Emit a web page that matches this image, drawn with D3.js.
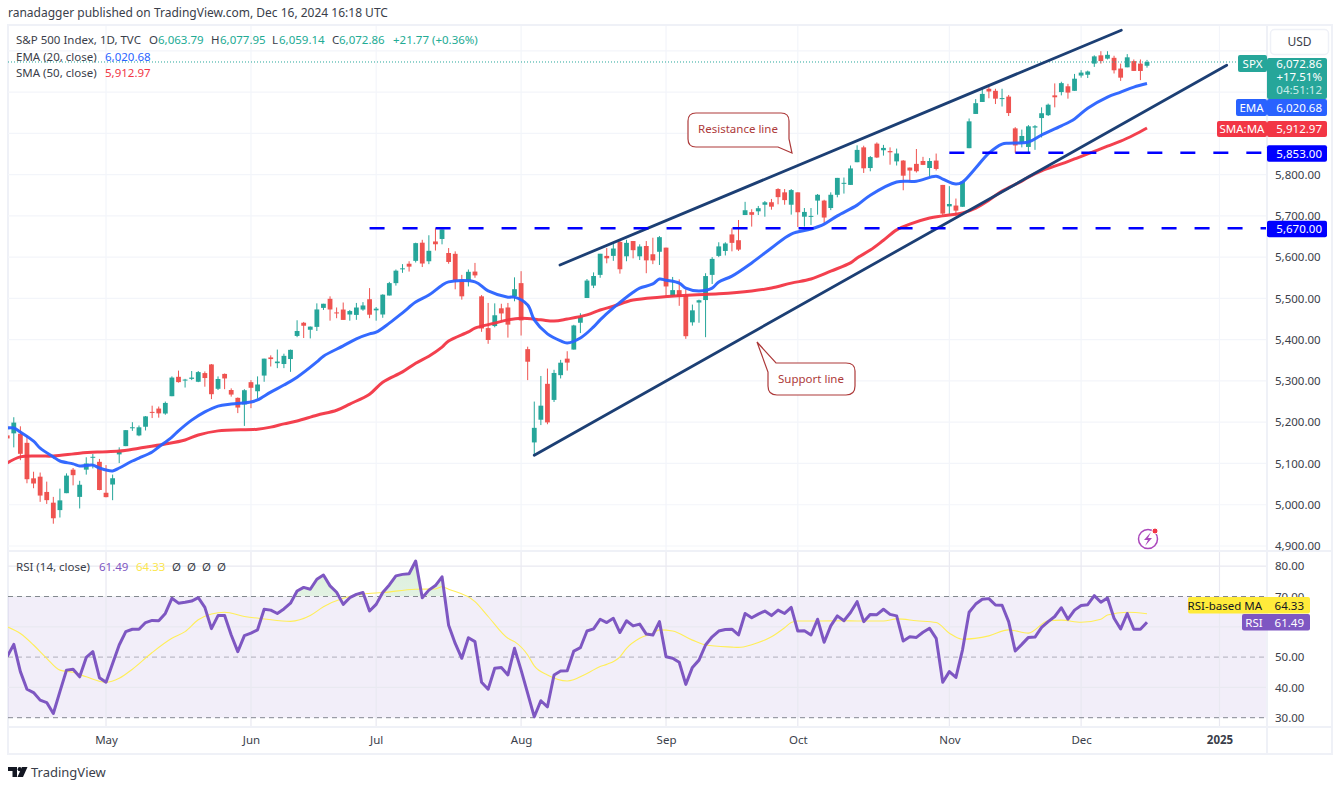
<!DOCTYPE html>
<html lang="en">
<head>
<meta charset="UTF-8">
<title>S&amp;P 500 Index daily chart</title>
<script src="https://d3js.org/d3.v7.min.js"></script>
<style>
    html, body { margin: 0; padding: 0; background: #fff; }
    svg { display: block; }
    text { font-family: "Noto Sans", sans-serif; font-size: 11.5px; fill: #3a3e4a; }
    .axis path, .axis line { display: none; }
    .axis text { font-size: 11.5px; fill: #3a3e4a; }
    .tag { font-size: 11.5px; fill: #fff; }
</style>
</head>
<body>
<svg id="chart" width="1340" height="786"></svg>
<script>
// one entry per trading day, Apr 10 to Dec 16 2024
const opens = [
    5168,5173,5172,5150,5064,5068,5031,5005,4987,5028,5085,5019,5085,5114,5104,
    5029,5049,5122,5142,5187,5168,5189,5225,5233,5221,5263,5310,5303,5305,5298,5319,5340,5281,5317,5278,5259,5243,
    5297,5275,5313,5357,5343,5341,5353,5409,5441,5424,5431,5477,5499,5466,5473,5461,5460,5473,5498,
    5471,5461,5507,5537,5572,5584,5591,5635,5590,5638,5644,5610,5608,5543,5544,5565,5505,5428,5433,5476,5478,5505,
    5537,5377,5151,5206,5293,5254,5314,5354,5376,5441,5501,5531,5557,5603,5603,5637,5602,5639,5602,5627,5607,5613,
    5623,5506,5520,5507,5442,5490,5496,5557,5603,5615,5655,5641,5702,5709,5711,5727,5733,5765,5757,5727,
    5757,5698,5698,5737,5737,5719,5751,5778,5775,5830,5866,5816,5875,5859,5857,5832,5834,5817,5826,5833,5816,5834,5775,
    5723,5725,5722,5864,5947,5976,6008,6003,5985,5989,5912,5878,5867,5914,5937,5944,5992,6000,6014,6003,
    6040,6042,6069,6089,6081,6083,6057,6060,6075,6069,6063.79
];
const highs = [
    5178,5212,5190,5168,5080,5078,5056,5019,5039,5076,5089,5058,5115,5123,5111,
    5096,5073,5139,5181,5200,5192,5215,5240,5238,5250,5311,5325,5305,5324,5324,5323,5341,5311,5318,5282,5260,5280,
    5302,5311,5354,5362,5376,5366,5376,5447,5443,5432,5488,5487,5505,5478,5490,5472,5489,5491,5525,
    5479,5510,5540,5570,5583,5590,5635,5642,5653,5670,5667,5622,5614,5557,5570,5586,5508,5489,5488,5487,5489,5551,
    5566,5383,5250,5312,5330,5327,5351,5372,5436,5464,5547,5563,5608,5622,5633,5643,5642,5639,5631,5639,5647,5651,
    5623,5552,5546,5522,5485,5497,5561,5600,5636,5636,5670,5690,5734,5716,5724,5736,5741,5767,5765,5765,
    5757,5719,5719,5753,5739,5757,5792,5793,5822,5871,5870,5845,5878,5872,5866,5863,5835,5817,5862,5843,5840,5851,5775,
    5772,5742,5783,5936,5983,6012,6018,6008,6008,5993,5915,5909,5920,5920,5963,5972,6021,6025,6020,6044,
    6053,6052,6089,6099,6099,6088,6069,6092,6079,6079,6077.95
];
const lows = [
    5139,5139,5108,5052,5040,5007,5002,4954,4969,5028,5047,4991,5073,5088,5035,
    5018,5011,5101,5142,5179,5166,5180,5210,5211,5218,5263,5296,5284,5302,5297,5286,5256,5278,5280,5262,5222,5191,
    5234,5257,5298,5335,5331,5331,5322,5406,5404,5403,5421,5472,5446,5452,5448,5446,5448,5470,5452,
    5446,5453,5507,5531,5562,5565,5587,5576,5583,5616,5631,5584,5522,5497,5529,5550,5419,5390,5430,5444,5405,5493,
    5410,5302,5119,5193,5195,5249,5306,5325,5376,5416,5501,5525,5550,5585,5591,5560,5590,5597,5593,5561,5583,5581,
    5504,5504,5482,5402,5434,5441,5406,5535,5600,5604,5614,5615,5702,5674,5702,5698,5715,5728,5727,5703,
    5673,5674,5678,5703,5683,5714,5745,5754,5775,5830,5804,5808,5840,5846,5824,5822,5762,5784,5805,5823,5796,5810,5702,
    5704,5700,5722,5864,5947,5976,5985,5971,5965,5942,5853,5866,5854,5860,5890,5942,5963,5992,5984,6003,
    6035,6034,6061,6069,6079,6045,6027,6060,6051,6029,6059.14
];
const closes = [
    5160.64,5199.06,5123.41,5061.82,5051.41,5022.21,5011.12,4967.23,5010.60,5070.55,5071.63,5048.42,5099.96,5116.17,5035.69,
    5018.39,5064.20,5127.79,5180.74,5187.70,5187.67,5214.08,5222.68,5221.42,5246.68,5308.15,5297.10,5303.27,5308.13,5321.41,5307.01,5267.84,5304.72,5306.04,5266.95,5235.48,5277.51,
    5283.40,5291.34,5354.03,5352.96,5346.99,5360.79,5375.32,5421.03,5433.74,5431.60,5473.23,5487.03,5473.17,5464.62,5447.87,5469.30,5477.90,5482.87,5460.48,
    5475.09,5509.01,5537.02,5567.19,5572.85,5576.98,5633.91,5584.54,5615.35,5631.22,5667.20,5588.27,5544.59,5505.00,5564.41,5555.74,5427.13,5399.22,5459.10,5463.54,5436.44,5522.30,
    5446.68,5346.56,5186.33,5240.03,5199.50,5319.31,5344.16,5344.39,5434.43,5455.21,5543.22,5554.25,5608.25,5597.12,5620.85,5570.64,5634.61,5616.84,5625.80,5592.18,5591.96,5648.40,
    5528.93,5520.07,5503.41,5408.42,5471.05,5495.52,5554.13,5595.76,5626.02,5633.09,5634.58,5618.26,5713.64,5702.55,5718.57,5732.93,5722.26,5745.37,5738.17,5762.48,
    5708.75,5709.54,5699.94,5751.07,5695.94,5751.13,5792.04,5780.05,5815.03,5859.85,5815.26,5842.47,5841.47,5864.67,5853.98,5851.20,5797.42,5809.86,5808.12,5823.52,5832.92,5813.67,5705.45,
    5728.80,5712.69,5782.76,5929.04,5973.10,5995.54,6001.35,5983.99,5985.38,5949.17,5870.62,5893.62,5916.98,5917.11,5948.71,5969.34,5987.37,6021.63,5998.74,6032.38,
    6047.15,6049.88,6086.49,6075.11,6090.27,6052.85,6034.91,6084.19,6051.25,6051.09,6072.86
];

const emaDays = [0,1,2,4,5,7,8,10,11,13,14,16,17,19,20,22,23,25,26,28,30,32,34,37,38,40,42,44,47,48,51,53,55,56,58,60,62,64,66,67,71,73,76,77,79,80,82,84,85,87,89,90,92,95,96,98,99,100,102,103,105,107,108,110,113,116,119,122,124,126,129,131,135,138,141,142,144,145,147,149,151,152,155,157,160,162,164,167,169,171,173];
const emaValues = [5186,5186,5176,5154,5137,5116,5106,5099,5094,5096,5089,5082,5089,5106,5113,5128,5140,5164,5179,5205,5225,5239,5244,5249,5254,5273,5290,5309,5346,5360,5385,5402,5414,5418,5440,5465,5491,5508,5532,5540,5540,5518,5503,5503,5484,5448,5414,5397,5392,5404,5431,5448,5477,5515,5525,5535,5547,5544,5537,5525,5518,5525,5540,5554,5586,5622,5656,5668,5680,5700,5726,5750,5782,5784,5796,5789,5777,5782,5816,5852,5874,5876,5879,5896,5918,5935,5961,5988,6000,6012,6020.68];

const smaDays = [0,2,5,7,11,14,17,20,24,27,29,32,38,40,42,44,47,50,52,55,57,60,62,64,66,67,70,71,74,76,78,81,83,85,88,90,92,95,99,104,108,113,116,119,122,125,128,129,131,133,135,137,140,142,145,147,149,151,154,155,157,160,162,164,167,169,171,173];
const smaValues = [5101,5116,5118,5118,5125,5128,5130,5137,5147,5157,5169,5179,5183,5188,5196,5203,5217,5229,5244,5268,5297,5322,5343,5360,5382,5397,5419,5428,5440,5448,5452,5448,5445,5450,5460,5472,5481,5496,5503,5508,5511,5518,5525,5537,5547,5566,5586,5598,5617,5641,5666,5680,5695,5700,5707,5719,5738,5760,5784,5794,5809,5826,5838,5850,5869,5881,5896,5912.97];

const rsiValues = [
    50.2,54.2,45.2,39.4,38.3,35.8,35.0,31.4,38.6,45.7,46.0,43.5,49.9,51.8,43.2,41.7,47.9,54.0,58.4,59.2,59.2,61.4,62.1,62.0,64.4,69.4,67.8,68.1,68.5,69.6,
    66.4,59.4,63.7,63.7,57.3,51.8,57.1,57.9,59.0,65.8,65.5,64.4,65.9,67.8,71.8,73.0,72.4,75.7,77.1,73.5,71.4,67.4,69.6,70.7,71.3,65.2,67.4,71.3,73.8,76.8,
    77.3,77.5,81.7,69.6,72.1,73.6,76.5,60.5,54.5,49.6,56.4,55.1,41.7,39.4,46.3,46.6,44.1,52.9,45.7,38.0,30.3,35.6,33.6,44.1,45.4,45.5,52.0,53.1,58.6,59.3,
    62.5,61.4,62.8,58.1,62.0,60.3,60.9,57.6,57.3,61.7,50.1,49.6,48.3,41.0,46.6,49.0,54.0,56.7,58.6,59.1,59.2,57.3,64.4,63.0,64.2,65.2,63.7,65.5,64.4,66.4,
    58.6,58.7,57.3,62.5,54.9,60.3,63.6,62.0,64.7,68.3,61.7,64.1,64.0,65.8,64.1,63.6,55.3,56.7,56.5,58.2,59.5,56.2,41.7,45.2,43.3,52.4,64.8,67.5,69.1,69.3,
    67.2,67.1,61.7,52.0,54.2,56.5,56.6,59.8,61.7,63.4,66.3,62.5,65.5,67.0,67.3,70.3,68.1,69.5,62.8,59.3,64.4,59.2,59.2,61.49
];

const rsiMaDays = [0,2,4,6,8,10,12,15,17,19,22,25,27,29,31,33,36,39,43,46,48,51,54,57,62,65,66,67,71,73,76,77,79,80,82,85,88,90,91,93,94,96,98,99,101,104,106,110,111,113,116,118,119,120,123,127,129,133,135,138,141,143,145,149,152,155,158,160,163,166,167,170,173];
const rsiMaValues = [60.0,57.8,54.0,49.6,45.7,45.0,43.5,41.7,43.0,46.0,51.5,56.2,58.4,62.3,64.2,64.8,63.4,62.6,61.8,63.7,66.6,69.4,70.8,71.3,72.4,72.5,73.2,72.4,68.3,63.4,56.2,55.1,50.7,47.1,44.1,42.1,44.6,46.9,47.6,50.1,52.9,56.2,57.9,59.0,58.6,55.6,54.0,53.3,53.2,54.1,56.7,59.7,61.4,61.9,61.9,62.0,61.9,61.9,62.6,62.0,61.4,57.9,55.9,57.0,59.0,57.9,62.0,62.2,61.5,62.5,63.9,64.8,64.33];

const monthDays = [15,37,56,78,100,120,143,163,184];
const monthLabels = ["May","Jun","Jul","Aug","Sep","Oct","Nov","Dec","2025"];
const priceTicks = [4900,5000,5100,5200,5300,5400,5500,5600,5700,5800];
const priceGrid = [4900,5000,5100,5200,5300,5400,5500,5600,5700,5800,5900,6000,6100];
const rsiTicks = [30,40,50,70,80];

const resistanceDays = [83.9,169.1];
const resistancePrices = [5581,6150];
const supportDays = [80,185.1];
const supportPrices = [5120,6065];
const levels = [5853,5670];
const levelStartDays = [143,55];

const lastClose = 6072.86, emaLast = 6020.68, smaLast = 5912.97, rsiLast = 61.49, rsiMaLast = 64.33;

const green = "#26a69a", red = "#ef5350", grid = "#f3f5fa", frame = "#eff1f7";
const navy = "#1c3f74", emaColor = "#2962ff", smaColor = "#f23645", rsiColor = "#7e57c2", maColor = "#ffee58";

const plot = {left: 8, right: 1266, top: 26, bottom: 550};
const pane = {top: 552, bottom: 727};

const x = d3.scaleLinear().domain([0, 173]).range([7.2, 1147]);
const y = d3.scaleLinear().domain([4900, 6100]).range([546, 50.8]);
const yRsi = d3.scaleLinear().domain([30, 80]).range([717.7, 566.2]);

const svg = d3.select("#chart");
const defs = svg.append("defs");
defs.append("clipPath").attr("id", "plotClip").append("rect")
    .attr("x", plot.left).attr("y", plot.top).attr("width", plot.right - plot.left).attr("height", plot.bottom - plot.top);
defs.append("clipPath").attr("id", "paneClip").append("rect")
    .attr("x", plot.left).attr("y", pane.top).attr("width", plot.right - plot.left).attr("height", pane.bottom - pane.top);
defs.append("clipPath").attr("id", "overbought").append("rect")
    .attr("x", plot.left).attr("y", pane.top).attr("width", plot.right - plot.left).attr("height", yRsi(70) - pane.top);
const grad = defs.append("linearGradient").attr("id", "obFill").attr("x1", 0).attr("x2", 0).attr("y1", 0).attr("y2", 1);
grad.append("stop").attr("offset", "0%").attr("stop-color", "#4caf50").attr("stop-opacity", 0.2);
grad.append("stop").attr("offset", "100%").attr("stop-color", "#4caf50").attr("stop-opacity", 0.02);

svg.append("text").attr("x", 8).attr("y", 17).style("font-size", "12px").text("ranadagger published on TradingView.com, Dec 16, 2024 16:18 UTC");

// frame
svg.append("rect").attr("x", 8).attr("y", 25).attr("width", 1324).attr("height", 729)
    .attr("fill", "#fff").attr("stroke", frame).attr("stroke-width", 2);

// grid
const gridG = svg.append("g");
gridG.selectAll(".h").data(priceGrid).enter().append("line")
    .attr("x1", plot.left).attr("x2", plot.right)
    .attr("y1", d => y(d)).attr("y2", d => y(d))
    .attr("stroke", grid).attr("stroke-width", 1.2);
gridG.selectAll(".v").data(monthDays).enter().append("line")
    .attr("x1", d => x(d)).attr("x2", d => x(d))
    .attr("y1", plot.top).attr("y2", plot.bottom)
    .attr("stroke", grid).attr("stroke-width", 1.2);

// candles
const main = svg.append("g").attr("clip-path", "url(#plotClip)");
const days = d3.range(closes.length);
main.selectAll(".wick").data(days).enter().append("line")
    .attr("x1", d => x(d)).attr("x2", d => x(d))
    .attr("y1", d => y(highs[d])).attr("y2", d => y(lows[d]))
    .attr("stroke", d => closes[d] >= opens[d] ? green : red)
    .attr("stroke-width", 1);
main.selectAll(".body").data(days).enter().append("rect")
    .attr("x", d => x(d) - 2.4).attr("width", 4.8)
    .attr("y", d => y(Math.max(opens[d], closes[d])))
    .attr("height", d => Math.max(1, Math.abs(y(opens[d]) - y(closes[d]))))
    .attr("fill", d => closes[d] >= opens[d] ? green : red);

// last price dotted line
main.append("line").attr("x1", plot.left).attr("x2", 1238)
    .attr("y1", y(lastClose)).attr("y2", y(lastClose))
    .attr("stroke", green).attr("stroke-width", 1).attr("stroke-dasharray", "1 2");

// moving averages
const lineOf = (dayList, valueList) => d3.line().x(d => x(dayList[d])).y(d => y(valueList[d])).curve(d3.curveCatmullRom.alpha(0.5))(d3.range(dayList.length));
main.append("path").attr("d", lineOf(smaDays, smaValues)).attr("fill", "none").attr("stroke", smaColor).attr("stroke-width", 3).attr("stroke-opacity", 0.95);
main.append("path").attr("d", lineOf(emaDays, emaValues)).attr("fill", "none").attr("stroke", emaColor).attr("stroke-width", 3).attr("stroke-opacity", 0.95);

// trend lines
[[resistanceDays, resistancePrices], [supportDays, supportPrices]].forEach(t => {
    main.append("line")
        .attr("x1", x(t[0][0])).attr("y1", y(t[1][0]))
        .attr("x2", x(t[0][1])).attr("y2", y(t[1][1]))
        .attr("stroke", navy).attr("stroke-width", 2.8).attr("stroke-linecap", "round");
});

// horizontal levels
main.selectAll(".level").data(levels).enter().append("line")
    .attr("x1", (d, i) => x(levelStartDays[i])).attr("x2", plot.right)
    .attr("y1", d => y(d)).attr("y2", d => y(d))
    .attr("stroke", "#0000ff").attr("stroke-width", 2.6).attr("stroke-dasharray", "15 18");

// callouts
const calloutColor = "#ad3a3a";
svg.append("path")
    .attr("d", "M696,113 H781 Q789,113 789,121 V139 L792,153 L778,147 H696 Q688,147 688,139 V121 Q688,113 696,113 Z")
    .attr("fill", "#fff").attr("stroke", calloutColor).attr("stroke-width", 1.2);
svg.append("text").attr("x", 738).attr("y", 133).attr("text-anchor", "middle").style("fill", calloutColor).text("Resistance line");
svg.append("path")
    .attr("d", "M776,363 H846 Q855,363 855,371 V386 Q855,395 846,395 H777 Q768,395 768,386 V372 L757,342 Z")
    .attr("fill", "#fff").attr("stroke", calloutColor).attr("stroke-width", 1.2);
svg.append("text").attr("x", 811).attr("y", 383).attr("text-anchor", "middle").style("fill", calloutColor).text("Support line");

// flash icon near the last candle
svg.append("circle").attr("cx", 1148).attr("cy", 539).attr("r", 9.5).attr("fill", "#fff").attr("stroke", "#ab47bc").attr("stroke-width", 1.5);
svg.append("path").attr("d", "M1151,532 L1144,540 H1148 L1145,546 L1152,538 H1148 Z").attr("fill", "#ab47bc");
svg.append("circle").attr("cx", 1155).attr("cy", 531).attr("r", 3).attr("fill", "#f23645").attr("stroke", "#fff");

// RSI pane
const rsiG = svg.append("g");
rsiG.append("rect").attr("x", plot.left).attr("width", plot.right - plot.left)
    .attr("y", yRsi(70)).attr("height", yRsi(30) - yRsi(70)).attr("fill", "#7e57c2").attr("fill-opacity", 0.1);
rsiG.selectAll(".h").data([80, 60, 40]).enter().append("line")
    .attr("x1", plot.left).attr("x2", plot.right)
    .attr("y1", d => yRsi(d)).attr("y2", d => yRsi(d))
    .attr("stroke", "#e9e9f1").attr("stroke-width", 1.2);
rsiG.selectAll(".v").data(monthDays).enter().append("line")
    .attr("x1", d => x(d)).attr("x2", d => x(d))
    .attr("y1", pane.top).attr("y2", pane.bottom)
    .attr("stroke", "#e9e9f1").attr("stroke-width", 1.2);
rsiG.selectAll(".level").data([70, 50, 30]).enter().append("line")
    .attr("x1", plot.left).attr("x2", plot.right)
    .attr("y1", d => yRsi(d)).attr("y2", d => yRsi(d))
    .attr("stroke", "#787b86").attr("stroke-opacity", d => d === 50 ? 0.55 : 0.9)
    .attr("stroke-dasharray", "5 4");

const rsiClip = svg.append("g").attr("clip-path", "url(#paneClip)");
rsiClip.append("path")
    .attr("clip-path", "url(#overbought)")
    .attr("d", d3.area().x((d, i) => x(i)).y0(yRsi(70)).y1(d => yRsi(d))(rsiValues))
    .attr("fill", "url(#obFill)");
rsiClip.append("path")
    .attr("d", d3.line().x(d => x(rsiMaDays[d])).y(d => yRsi(rsiMaValues[d])).curve(d3.curveMonotoneX)(d3.range(rsiMaDays.length)))
    .attr("fill", "none").attr("stroke", maColor).attr("stroke-width", 1.1);
rsiClip.append("path")
    .attr("d", d3.line().x((d, i) => x(i)).y(d => yRsi(d))(rsiValues))
    .attr("fill", "none").attr("stroke", rsiColor).attr("stroke-width", 3).attr("stroke-linejoin", "round");

// pane and axis dividers
[[plot.left, 551, 1332, 551], [plot.left, 727, 1332, 727], [1267, 25, 1267, 754]].forEach(s => {
    svg.append("line").attr("x1", s[0]).attr("y1", s[1]).attr("x2", s[2]).attr("y2", s[3])
        .attr("stroke", frame).attr("stroke-width", 2);
});

// axes
svg.append("g").attr("class", "axis").attr("transform", "translate(1272,0)")
    .call(d3.axisRight(y).tickValues(priceTicks).tickSize(0).tickPadding(3).tickFormat(d3.format(",.2f")));
svg.append("g").attr("class", "axis").attr("transform", "translate(1272,0)")
    .call(d3.axisRight(yRsi).tickValues(rsiTicks).tickSize(0).tickPadding(3).tickFormat(d3.format(".2f")));
svg.append("g").attr("class", "axis").attr("transform", "translate(0,734)")
    .call(d3.axisBottom(x).tickValues(monthDays).tickSize(0).tickPadding(0).tickFormat((d, i) => monthLabels[i]))
    .selectAll("text").attr("dy", "0.9em").style("font-weight", d => d === 184 ? 700 : 400);

// price labels
const tag = (x0, y0, w, h, fill) => svg.append("rect").attr("x", x0).attr("y", y0).attr("width", w).attr("height", h).attr("rx", 2).attr("fill", fill);
const tagText = (xp, yp, str, fill, anchor) => svg.append("text").attr("x", xp).attr("y", yp)
    .attr("text-anchor", anchor || "end").attr("class", "tag").style("fill", fill || "#fff").text(str);

// USD button
svg.append("rect").attr("x", 1270.5).attr("y", 29.5).attr("width", 58).attr("height", 25).attr("rx", 4).attr("fill", "#fff").attr("stroke", frame).attr("stroke-width", 1.5);
svg.append("text").attr("x", 1299.5).attr("y", 46).attr("text-anchor", "middle").style("font-size", "12px").text("USD");

const fmt = d3.format(",.2f");
tag(1238, 55, 29, 17, green);
tagText(1252.5, 68, "SPX", "#fff", "middle");
tag(1267, 58, 60, 41, green);
tagText(1322, 68, fmt(lastClose));
tagText(1322, 81, "+17.51%");
tagText(1322, 94, "04:51:12", "#c8ece8");

tag(1236, 99, 31, 17, emaColor);
tagText(1251.5, 112, "EMA", "#fff", "middle");
tag(1267, 99, 60, 17, emaColor);
tagText(1322, 112, fmt(emaLast));

tag(1217, 121, 50, 16, smaColor);
tagText(1242, 133, "SMA:MA", "#fff", "middle");
tag(1267, 121, 60, 16, smaColor);
tagText(1322, 133, fmt(smaLast));

levels.forEach(d => {
    tag(1267, y(d) - 7.5, 60, 16.5, "#0000ff");
    tagText(1322, y(d) + 5, fmt(d));
});

tag(1188, 597, 122, 16.5, "#ffeb3b");
tagText(1262, 609.5, "RSI-based MA", "#131722");
tagText(1304, 609.5, d3.format(".2f")(rsiMaLast), "#131722");
tag(1242, 614, 68, 16.5, rsiColor);
tagText(1254, 626.5, "RSI", "#fff", "middle");
tagText(1304, 626.5, d3.format(".2f")(rsiLast));

// legend
const legend = (xp, yp, str, fill) => svg.append("text").attr("x", xp).attr("y", yp).style("fill", fill || "#3a3e4a").text(str);
const teal = "#22ab94";
legend(16, 44, "S&P 500 Index, 1D, TVC");
legend(149, 44, "O");
legend(158, 44, fmt(opens[173]), teal);
legend(211, 44, "H");
legend(220, 44, fmt(highs[173]), teal);
legend(272, 44, "L");
legend(279, 44, fmt(lows[173]), teal);
legend(332, 44, "C");
legend(339, 44, fmt(closes[173]), teal);
legend(393, 44, "+21.77 (+0.36%)", teal);
legend(16, 61, "EMA (20, close)");
legend(105, 61, fmt(emaLast), "#2962ff");
legend(16, 77, "SMA (50, close)");
legend(105, 77, fmt(smaLast), "#f23645");
legend(16, 571, "RSI (14, close)");
legend(99, 571, d3.format(".2f")(rsiLast), rsiColor);
legend(136, 571, d3.format(".2f")(rsiMaLast), "#fbe64d");
["\u00d8", "\u00d8", "\u00d8", "\u00d8"].forEach((s, i) => legend(172 + i * 15, 571, s));

// TradingView mark
svg.append("path").attr("d", "M8,767 H17 V777 H12.5 V771 H8 Z M22,767 H27.5 L23,777 H17.5 Z").attr("fill", "#131722");
svg.append("circle").attr("cx", 19.7).attr("cy", 769.2).attr("r", 2.1).attr("fill", "#131722");
svg.append("text").attr("x", 31).attr("y", 777).style("font-size", "13px").text("TradingView");
</script>
</body>
</html>
